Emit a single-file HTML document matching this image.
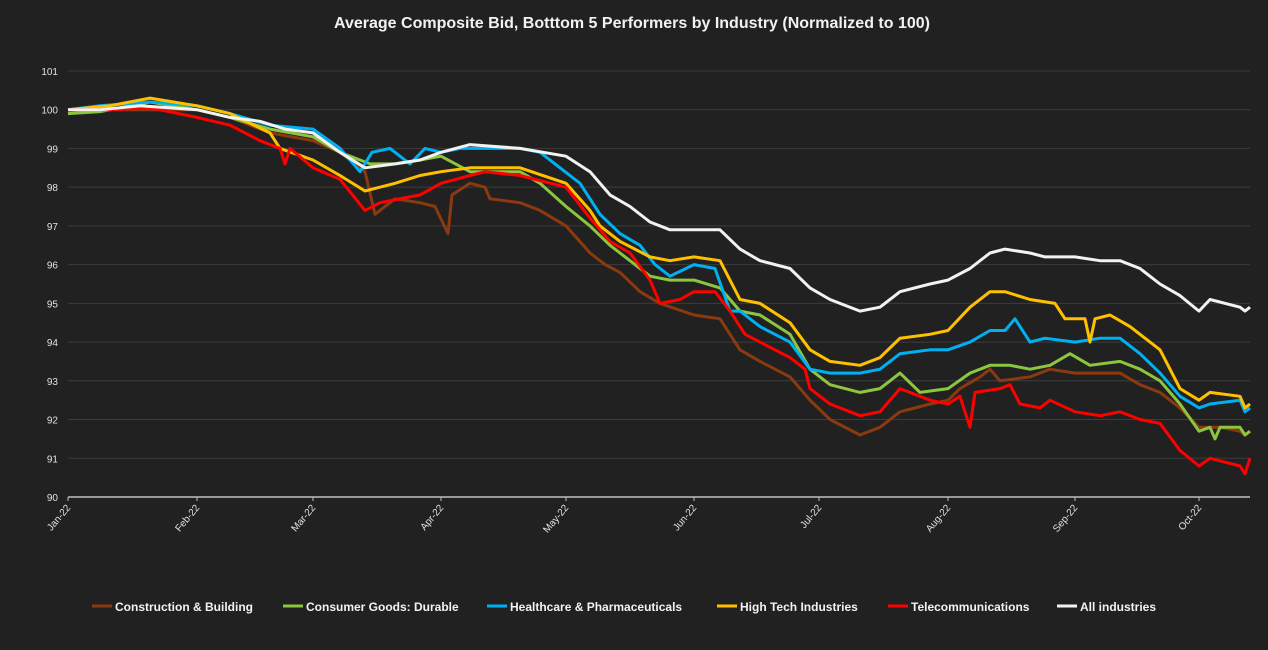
<!DOCTYPE html>
<html><head><meta charset="utf-8"><style>
html,body{margin:0;padding:0;background:#212121;}
svg{display:block;font-family:"Liberation Sans",sans-serif;}
</style></head><body>
<svg id="s" width="1268" height="650" xmlns="http://www.w3.org/2000/svg">
<rect width="1268" height="650" fill="#212121"/>
<text x="632" y="28" text-anchor="middle" fill="#f2f2f2" font-size="16" font-weight="bold">Average Composite Bid, Botttom 5 Performers by Industry  (Normalized to 100)</text>
<g id="grid"></g>
<g id="lines" fill="none" stroke-width="3" stroke-linejoin="round"></g>
<g font-size="12" font-weight="bold" fill="#f2f2f2">
<line x1="92" y1="606" x2="112" y2="606" stroke="#8b3a0f" stroke-width="3"/><text x="115" y="611">Construction &amp; Building</text>
<line x1="283" y1="606" x2="303" y2="606" stroke="#8cc63f" stroke-width="3"/><text x="306" y="611">Consumer Goods: Durable</text>
<line x1="487" y1="606" x2="507" y2="606" stroke="#00b0f0" stroke-width="3"/><text x="510" y="611">Healthcare &amp; Pharmaceuticals</text>
<line x1="717" y1="606" x2="737" y2="606" stroke="#ffc000" stroke-width="3"/><text x="740" y="611">High Tech Industries</text>
<line x1="888" y1="606" x2="908" y2="606" stroke="#ff0000" stroke-width="3"/><text x="911" y="611">Telecommunications</text>
<line x1="1057" y1="606" x2="1077" y2="606" stroke="#f2f2f2" stroke-width="3"/><text x="1080" y="611">All industries</text>
</g>
</svg>
<script>
const NS="http://www.w3.org/2000/svg";
const y=v=>497-(v-90)*38.73;
const g=document.getElementById('grid');
let h='';
for(let v=91;v<=101;v++){h+=`<line x1="68" x2="1250" y1="${y(v)}" y2="${y(v)}" stroke="#3c3c3c" stroke-width="1"/>`;}
for(let v=90;v<=101;v++){h+=`<text x="58" y="${y(v)+4}" text-anchor="end" fill="#e0e0e0" font-size="10">${v}</text>`;}
h+=`<line x1="68" x2="1250" y1="497" y2="497" stroke="#bfbfbf" stroke-width="1.5"/>`;
const m=[["Jan-22",68],["Feb-22",197],["Mar-22",313],["Apr-22",441],["May-22",566],["Jun-22",694],["Jul-22",819],["Aug-22",948],["Sep-22",1075],["Oct-22",1199]];
m.forEach(([t,x])=>{h+=`<line x1="${x}" x2="${x}" y1="497" y2="501" stroke="#bfbfbf"/><text transform="translate(${x+3},508) rotate(-50)" text-anchor="end" fill="#e0e0e0" font-size="10">${t}</text>`;});
g.innerHTML=h;
const S={
"#8b3a0f":[[68,99.9],[100,100],[150,100],[197,100],[230,99.8],[270,99.4],[313,99.2],[340,98.9],[365,98.4],[375,97.3],[395,97.7],[420,97.6],[435,97.5],[448,96.8],[452,97.8],[470,98.1],[485,98],[490,97.7],[520,97.6],[540,97.4],[566,97],[590,96.3],[605,96],[620,95.8],[640,95.3],[660,95],[694,94.7],[720,94.6],[740,93.8],[760,93.5],[790,93.1],[810,92.5],[830,92],[860,91.6],[880,91.8],[900,92.2],[930,92.4],[948,92.5],[960,92.8],[980,93.1],[990,93.3],[1000,93],[1030,93.1],[1050,93.3],[1075,93.2],[1100,93.2],[1120,93.2],[1140,92.9],[1160,92.7],[1180,92.3],[1199,91.8],[1220,91.8],[1240,91.7],[1245,91.6],[1250,91.7]],
"#8cc63f":[[68,99.9],[100,99.95],[150,100.2],[197,100],[230,99.8],[270,99.5],[313,99.3],[340,98.9],[370,98.6],[395,98.6],[420,98.7],[441,98.8],[470,98.4],[520,98.4],[540,98.1],[566,97.5],[590,97],[610,96.5],[630,96.1],[650,95.7],[670,95.6],[694,95.6],[720,95.4],[740,94.8],[760,94.7],[790,94.2],[810,93.3],[830,92.9],[860,92.7],[880,92.8],[900,93.2],[920,92.7],[948,92.8],[970,93.2],[990,93.4],[1010,93.4],[1030,93.3],[1050,93.4],[1070,93.7],[1090,93.4],[1120,93.5],[1140,93.3],[1160,93],[1180,92.4],[1199,91.7],[1210,91.8],[1215,91.5],[1220,91.8],[1240,91.8],[1245,91.6],[1250,91.7]],
"#00b0f0":[[68,100],[100,100.1],[150,100.2],[197,100.1],[230,99.9],[270,99.6],[313,99.5],[340,99],[360,98.4],[372,98.9],[390,99],[410,98.6],[425,99],[441,98.9],[460,99],[520,99],[540,98.9],[560,98.5],[580,98.1],[600,97.3],[620,96.8],[640,96.5],[655,96],[670,95.7],[694,96],[715,95.9],[730,94.8],[740,94.8],[760,94.4],[790,94],[810,93.3],[830,93.2],[860,93.2],[880,93.3],[900,93.7],[930,93.8],[948,93.8],[970,94],[990,94.3],[1005,94.3],[1015,94.6],[1030,94],[1045,94.1],[1075,94],[1100,94.1],[1120,94.1],[1140,93.7],[1160,93.2],[1180,92.6],[1199,92.3],[1210,92.4],[1240,92.5],[1245,92.2],[1250,92.3]],
"#ffc000":[[68,100],[110,100.1],[150,100.3],[197,100.1],[230,99.9],[270,99.4],[280,99],[313,98.7],[340,98.3],[365,97.9],[395,98.1],[420,98.3],[441,98.4],[470,98.5],[520,98.5],[566,98.1],[590,97.4],[600,97],[620,96.6],[650,96.2],[670,96.1],[694,96.2],[720,96.1],[740,95.1],[760,95],[790,94.5],[810,93.8],[830,93.5],[860,93.4],[880,93.6],[900,94.1],[930,94.2],[948,94.3],[970,94.9],[990,95.3],[1005,95.3],[1030,95.1],[1055,95],[1065,94.6],[1085,94.6],[1090,94],[1095,94.6],[1110,94.7],[1130,94.4],[1160,93.8],[1180,92.8],[1199,92.5],[1210,92.7],[1240,92.6],[1245,92.3],[1250,92.4]],
"#ff0000":[[68,100],[110,100],[150,100.05],[197,99.8],[230,99.6],[260,99.2],[280,99],[285,98.6],[290,99],[313,98.5],[340,98.2],[365,97.4],[380,97.6],[420,97.8],[441,98.1],[470,98.3],[485,98.4],[520,98.3],[566,98],[590,97.2],[610,96.6],[630,96.3],[650,95.6],[660,95],[680,95.1],[694,95.3],[715,95.3],[730,94.8],[745,94.2],[760,94],[790,93.6],[805,93.3],[810,92.8],[830,92.4],[860,92.1],[880,92.2],[900,92.8],[930,92.5],[948,92.4],[960,92.6],[970,91.8],[975,92.7],[1000,92.8],[1010,92.9],[1020,92.4],[1040,92.3],[1050,92.5],[1075,92.2],[1100,92.1],[1120,92.2],[1140,92],[1160,91.9],[1180,91.2],[1199,90.8],[1210,91],[1240,90.8],[1245,90.6],[1250,91]],
"#f2f2f2":[[68,100],[100,100],[140,100.1],[197,100],[230,99.8],[260,99.7],[285,99.5],[313,99.4],[340,98.9],[365,98.5],[395,98.6],[420,98.7],[441,98.9],[470,99.1],[520,99],[566,98.8],[590,98.4],[610,97.8],[630,97.5],[650,97.1],[670,96.9],[694,96.9],[720,96.9],[740,96.4],[760,96.1],[790,95.9],[810,95.4],[830,95.1],[860,94.8],[880,94.9],[900,95.3],[930,95.5],[948,95.6],[970,95.9],[990,96.3],[1005,96.4],[1030,96.3],[1045,96.2],[1075,96.2],[1100,96.1],[1120,96.1],[1140,95.9],[1160,95.5],[1180,95.2],[1199,94.8],[1210,95.1],[1240,94.9],[1245,94.8],[1250,94.9]]
};
const L=document.getElementById('lines');
for(const c in S){const p=document.createElementNS(NS,'polyline');p.setAttribute('points',S[c].map(([x,v])=>x+','+y(v).toFixed(1)).join(' '));p.setAttribute('stroke',c);L.appendChild(p);}
</script>
</body></html>
